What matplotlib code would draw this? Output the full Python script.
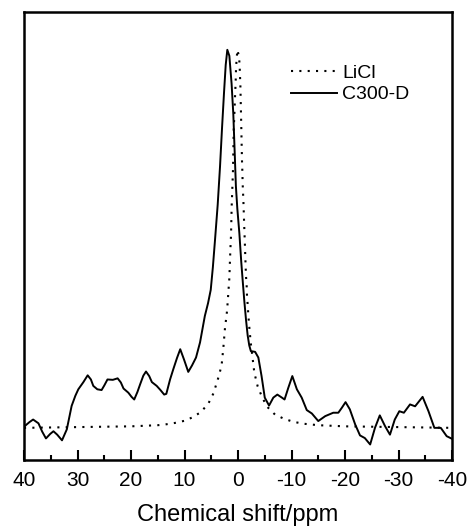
import matplotlib
matplotlib.use("Agg")
import matplotlib.pyplot as plt
from matplotlib.ticker import MultipleLocator

plt.rcParams['font.family'] = ['Liberation Sans', 'DejaVu Sans']
plt.rcParams['axes.unicode_minus'] = False

# C300-D spectrum (ppm, relative intensity)
c300_ppm = [40.0, 39.0, 38.3, 37.3, 36.6, 35.9, 35.1, 34.5, 33.8, 32.9,
            32.0, 31.1, 30.4, 29.85, 28.9, 28.1, 27.5, 27.05, 26.3, 25.5,
            25.0, 24.4, 23.4, 22.5, 21.9, 21.4, 20.5, 19.9, 19.4, 18.8,
            18.3, 17.7, 17.2, 16.6, 16.1, 15.2, 14.5, 13.8, 13.4, 12.7,
            12.1, 11.4, 10.8, 10.1, 9.3, 8.6, 7.85, 7.1, 6.2, 5.6,
            5.1, 4.7, 4.3, 3.8, 3.36, 3.0, 2.62, 2.3, 2.0, 1.62,
            1.2, 0.88, 0.6, 0.4, 0.13, -0.25, -0.6, -0.87, -1.18, -1.5,
            -1.8, -2.1, -2.4, -2.8, -3.2, -3.8, -4.4, -5.0, -5.8, -6.6,
            -7.35, -8.2, -8.7, -9.4, -10.15, -11.0, -11.9, -12.85, -13.8, -15.0,
            -16.3, -17.8, -18.75, -19.4, -20.1, -20.9, -21.9, -22.8, -23.7, -24.7,
            -25.6, -26.5, -27.5, -28.4, -29.3, -30.15, -31.0, -32.15, -33.1, -34.5,
            -35.6, -36.7, -37.9, -39.0, -40.0]
c300_int = [0.003, 0.015, 0.022, 0.012, -0.010, -0.028, -0.016, -0.009, -0.018, -0.033,
            -0.004, 0.058, 0.085, 0.102, 0.121, 0.139, 0.128, 0.111, 0.102, 0.100,
            0.112, 0.128, 0.127, 0.131, 0.120, 0.104, 0.093, 0.082, 0.075, 0.095,
            0.115, 0.138, 0.149, 0.137, 0.121, 0.111, 0.100, 0.088, 0.090, 0.128,
            0.155, 0.185, 0.208, 0.181, 0.148, 0.165, 0.186, 0.226, 0.296, 0.330,
            0.365, 0.425, 0.497, 0.590, 0.692, 0.790, 0.886, 0.960, 1.000, 0.984,
            0.910, 0.830, 0.720, 0.640, 0.580, 0.515, 0.440, 0.390, 0.335, 0.285,
            0.245, 0.218, 0.203, 0.202, 0.201, 0.186, 0.137, 0.080, 0.059, 0.080,
            0.088, 0.080, 0.075, 0.106, 0.137, 0.102, 0.080, 0.047, 0.038, 0.018,
            0.031, 0.040, 0.040, 0.053, 0.068, 0.049, 0.009, -0.020, -0.027, -0.044,
            0.000, 0.033, 0.004, -0.018, 0.022, 0.044, 0.040, 0.062, 0.057, 0.082,
            0.044, 0.000, 0.000, -0.022, -0.029]

# LiCl reference
licl_ppm = [40.0, 30.0, 20.0, 15.0, 13.6, 11.8, 9.9, 8.65, 7.0, 5.55,
            4.6, 4.0, 3.5, 3.05, 2.74, 2.43, 2.12, 2.0, 1.87, 1.75,
            1.62, 1.5, 1.43, 1.31, 1.25, 1.19, 1.06, 0.93, 0.81, 0.69,
            0.56, 0.44, 0.37, 0.25, 0.12, -0.19, -0.31, -0.37, -0.44, -0.5,
            -0.56, -0.62, -0.69, -0.75, -0.81, -0.87, -1.0, -1.06, -1.12, -1.18,
            -1.25, -1.31, -1.37, -1.43, -1.5, -1.62, -1.68, -1.81, -1.93, -2.12,
            -2.37, -3.05, -3.67, -4.42, -5.36, -6.92, -8.6, -10.34, -12.2, -15.0,
            -20.0, -30.0, -40.0]
licl_int = [0.0, 0.002, 0.004, 0.007, 0.009, 0.013, 0.019, 0.027, 0.041, 0.064,
            0.091, 0.118, 0.141, 0.168, 0.212, 0.265, 0.300, 0.319, 0.345, 0.370,
            0.396, 0.445, 0.471, 0.509, 0.546, 0.584, 0.635, 0.686, 0.787, 0.826,
            0.876, 0.915, 0.951, 0.978, 1.000, 0.982, 0.956, 0.931, 0.907, 0.867,
            0.829, 0.790, 0.742, 0.703, 0.679, 0.645, 0.602, 0.577, 0.551, 0.526,
            0.500, 0.475, 0.449, 0.425, 0.400, 0.374, 0.349, 0.325, 0.298, 0.265,
            0.226, 0.146, 0.110, 0.084, 0.057, 0.035, 0.024, 0.016, 0.011, 0.007,
            0.004, 0.002, 0.0]

tick_vals = [40, 30, 20, 10, 0, -10, -20, -30, -40]
tick_labels = ['40', '30', '20', '10', '0', '-10', '-20', '-30', '-40']

fig = plt.figure(figsize=(4.69, 5.26), dpi=100)
ax = fig.add_axes([0.0512, 0.1255, 0.9126, 0.8517])

ax.plot(licl_ppm, licl_int, color='black', lw=1.5, linestyle=(0, (1, 3)), label='LiCl')
ax.plot(c300_ppm, c300_int, color='black', lw=1.4, label='C300-D')

ax.set_xlim(40, -40)
ax.set_ylim(-0.085, 1.10)
ax.set_xticks(tick_vals)
ax.set_xticklabels(tick_labels)
ax.xaxis.set_minor_locator(MultipleLocator(5))
ax.set_yticks([])
ax.tick_params(axis='x', which='major', direction='in', length=7, width=1.5,
               labelsize=15, pad=8)
ax.tick_params(axis='x', which='minor', direction='in', length=3.5, width=1.5)
for s in ax.spines.values():
    s.set_linewidth(1.8)

ax.set_xlabel('Chemical shift/ppm', fontsize=17, labelpad=10)

ax.legend(loc='upper left', bbox_to_anchor=(0.6, 0.905), frameon=False,
          fontsize=14, handlelength=2.4, handletextpad=0.25, borderpad=0,
          labelspacing=0.2)

fig.savefig('out.png', dpi=100)
